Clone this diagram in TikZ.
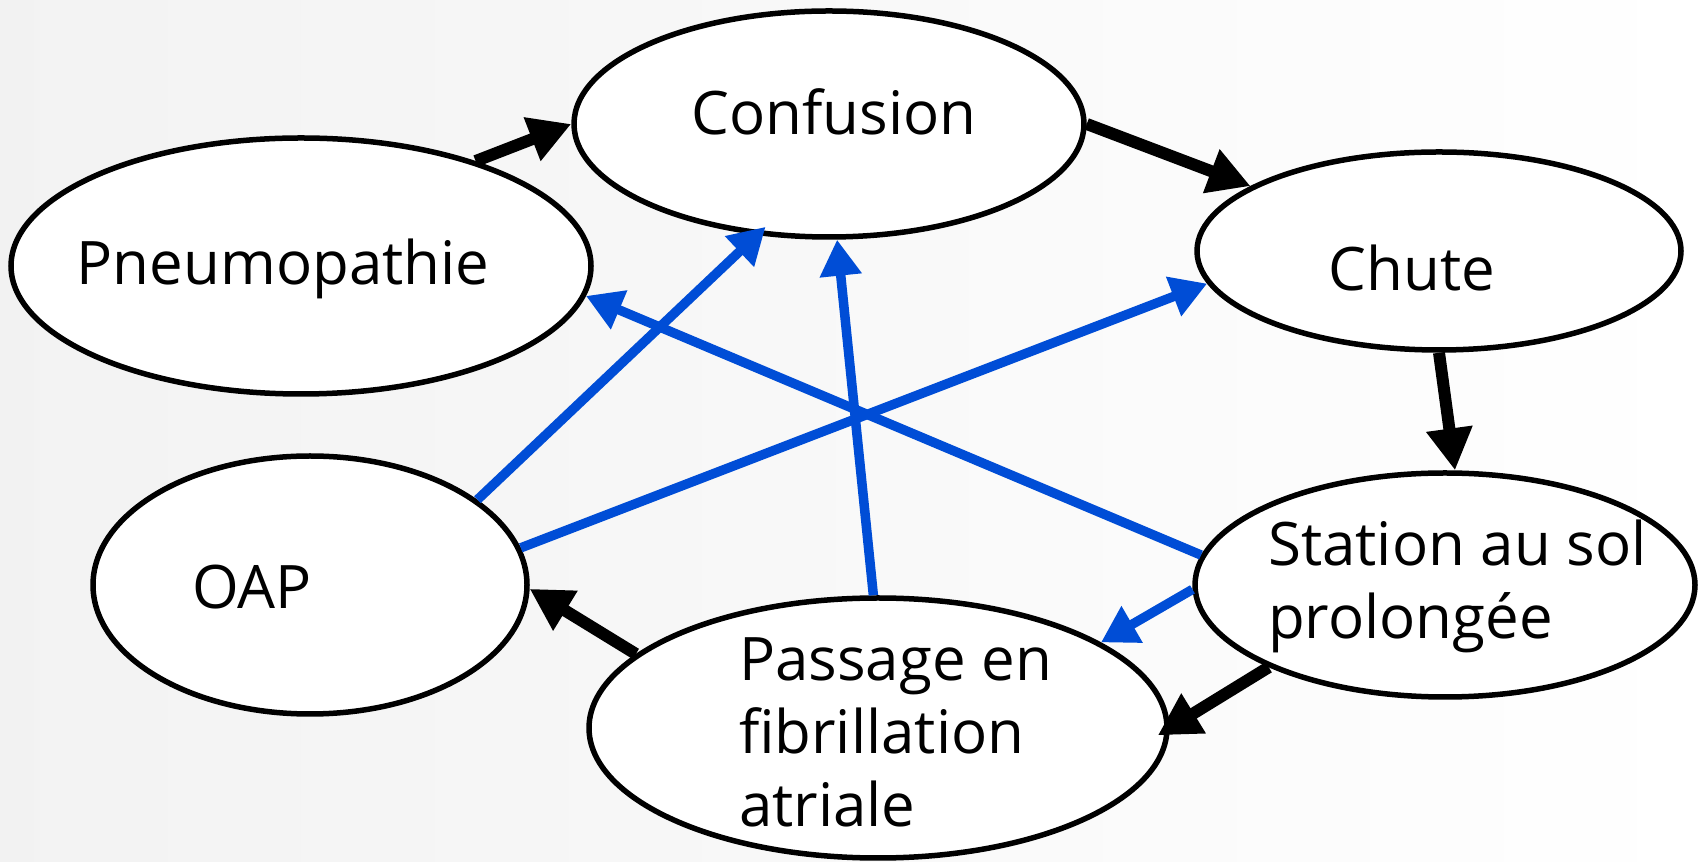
\documentclass[tikz,border=0pt]{standalone}
\usepackage{fontspec}
\setmainfont{Open Sans}
\usetikzlibrary{arrows.meta,shapes.geometric}
\definecolor{linkblue}{RGB}{0,77,214}
\tikzset{
  bubble/.style={draw=black, line width=5.5pt, fill=white, ellipse, inner sep=0pt},
  lbl/.style={font=\fontsize{60}{73}\selectfont, inner sep=0pt, align=left},
  causal/.style={draw=black, line width=12pt, -{Triangle[length=42pt,width=44pt]}},
  aggrav/.style={draw=linkblue, line width=9.5pt, -{Triangle[length=36pt,width=40pt]}},
}
\begin{document}
\begin{tikzpicture}[x=1pt,y=1pt]
  % backdrop
  \shade[left color=black!5, right color=white] (0,0) rectangle (1703,862);
  \useasboundingbox (0,0) rectangle (1703,862);

  % the six situations
  \node[bubble, minimum width=510pt, minimum height=226pt] (conf)  at (829,738) {};
  \node[bubble, minimum width=580pt, minimum height=256pt] (pneu)  at (301,596) {};
  \node[bubble, minimum width=484pt, minimum height=198pt] (chute) at (1439,611) {};
  \node[bubble, minimum width=434pt, minimum height=258pt] (oap)   at (310,277) {};
  \node[bubble, minimum width=500pt, minimum height=224pt] (stat)  at (1445,277) {};
  \node[bubble, minimum width=578pt, minimum height=260pt] (pass)  at (878,134) {};

  % their labels
  \node[lbl] (conf-t)  at (834,750) {Confusion};
  \node[lbl] (pneu-t)  at (283,593) {Pneumopathie};
  \node[lbl] (chute-t) at (1412,594) {Chute};
  \node[lbl] (oap-t)   at (252,275) {OAP};
  \node[lbl, anchor=west] (stat-t) at (1268,276) {Station au sol\\prolongée};
  \node[lbl, anchor=west] (pass-t) at (739,130) {Passage en\\fibrillation\\atriale};

  % main chain of events
  \draw[causal] (pneu.31.6) -- (conf.180);
  \draw[causal] (conf.0) -- (chute.161.7);
  \draw[causal] (chute.-90) -- (stat.85);
  \draw[causal, shorten >=-14pt] (stat.205) -- (pass.0);
  \draw[causal] (pass.163.5) -- (oap.-1.3);

  % secondary links
  \draw[aggrav, shorten >=-12pt] (oap.27.6) -- (conf.237.9);
  \draw[aggrav] (oap.10.7) -- (chute.188.8);
  \draw[aggrav] (stat.173.7) -- (pneu.-6.5);
  \draw[aggrav] (stat.181.6) -- (pass.21.7);
  \draw[aggrav] (pass.92.9) -- (conf.-86.6);
\end{tikzpicture}
\end{document}
